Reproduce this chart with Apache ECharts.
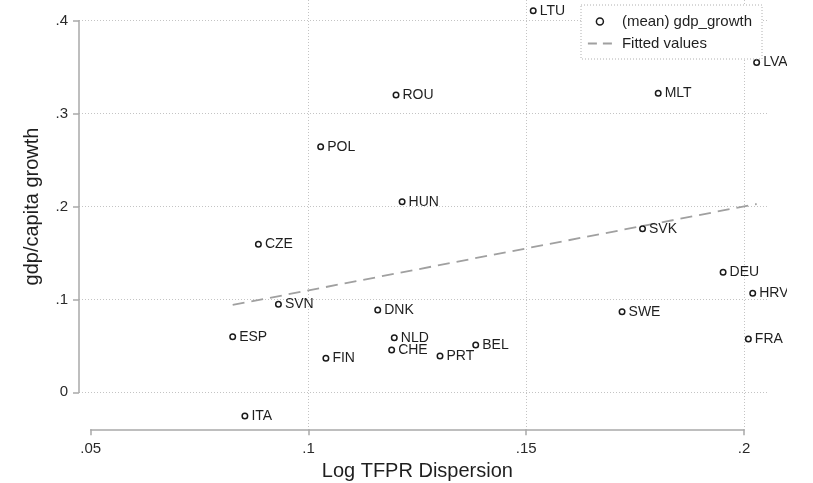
<!DOCTYPE html>
<html>
<head>
<meta charset="utf-8">
<style>
  html, body { margin: 0; padding: 0; background: #fff; }
  #chart { width: 813px; height: 483px; }
</style>
<script src="https://cdn.jsdelivr.net/npm/echarts@6/dist/echarts.min.js"></script>
</head>
<body>
<div id="chart"></div>
<script>
// Country codes and their values
const countries = ['LTU', 'LVA', 'MLT', 'ROU', 'POL', 'HUN', 'CZE', 'SVK', 'DEU', 'HRV',
                   'SWE', 'FRA', 'SVN', 'ESP', 'FIN', 'ITA', 'DNK', 'NLD', 'CHE', 'PRT', 'BEL'];
// Log TFPR dispersion (x)
const tfprDispersion = [0.1516, 0.2029, 0.1803, 0.1201, 0.1028, 0.1215, 0.0885, 0.1767, 0.1952, 0.2020,
                        0.1720, 0.2010, 0.0931, 0.0826, 0.1040, 0.0854, 0.1159, 0.1197, 0.1191, 0.1302, 0.1384];
// (mean) gdp/capita growth (y)
const gdpGrowth = [0.4106, 0.3549, 0.3218, 0.3200, 0.2644, 0.2052, 0.1593, 0.1761, 0.1292, 0.1066,
                   0.0868, 0.0574, 0.0947, 0.0599, 0.0366, -0.0255, 0.0886, 0.0588, 0.0455, 0.0391, 0.0509];
// Fitted values line end points
const fitX = [0.0826, 0.2029];
const fitY = [0.0940, 0.2027];
// Axis ticks
const xTicks = [0.05, 0.1, 0.15, 0.2];
const yTicks = [0, 0.1, 0.2, 0.3, 0.4];

const scatterName = '(mean) gdp_growth';
const fitName = 'Fitted values';
const FONT = '"Liberation Sans", Arial, Helvetica, sans-serif';

// Pixel geometry of the plot
const W = 813, H = 483;
const axisLeftPx = 79;        // y axis line
const axisBottomPx = 429.3;   // x axis line
const plotRightPx = 768;      // end of grid lines
const x0Px = 90.7, x1Px = 744;    // .05 and .2
const y0Px = 392.3, y1Px = 20.7;  // 0 and .4

const xScale = (x1Px - x0Px) / (xTicks[xTicks.length - 1] - xTicks[0]);
const yScale = (y0Px - y1Px) / (yTicks[yTicks.length - 1] - yTicks[0]);
const dataXMin = xTicks[0] - (x0Px - axisLeftPx) / xScale;
const dataXMax = xTicks[0] + (plotRightPx - x0Px) / xScale;
const dataYMin = yTicks[0] - (axisBottomPx - y0Px) / yScale;
const dataYMax = yTicks[yTicks.length - 1] + (y1Px - 0) / yScale;

const fmt = v => {
  if (Math.abs(v) < 1e-9) return '0';
  return String(+v.toFixed(2)).replace(/^0\./, '.').replace(/^-0\./, '-.');
};

const points = countries.map((c, i) => ({ name: c, value: [tfprDispersion[i], gdpGrowth[i]] }));
const fitLine = fitX.map((x, i) => [x, fitY[i]]);

const axisGray = '#a9a9a9';
const gridGray = '#c4c4c4';
const fitGray = '#a0a0a0';

const chart = echarts.init(document.getElementById('chart'), null, { renderer: 'canvas' });
chart.setOption({
  animation: false,
  backgroundColor: '#fff',
  textStyle: { fontFamily: FONT },
  grid: [
    // data area
    { left: axisLeftPx, right: W - plotRightPx, top: 0, bottom: H - axisBottomPx, outerBoundsMode: 'none' },
    // x axis frame (spans the tick range only)
    { left: x0Px, right: W - x1Px, top: 0, bottom: H - axisBottomPx, outerBoundsMode: 'none' },
    // y axis frame
    { left: axisLeftPx, right: W - plotRightPx, top: y1Px, bottom: H - y0Px, outerBoundsMode: 'none' }
  ],
  xAxis: [
    { gridIndex: 0, type: 'value', min: dataXMin, max: dataXMax, show: false },
    {
      gridIndex: 1, type: 'value', min: xTicks[0], max: xTicks[xTicks.length - 1], interval: 0.05,
      name: 'Log TFPR Dispersion', nameLocation: 'middle', nameGap: 27,
      nameTextStyle: { fontSize: 20, color: '#1f1f1f', fontFamily: FONT },
      axisLine: { show: true, onZero: false, lineStyle: { color: axisGray, width: 1.5 } },
      axisTick: { show: true, length: 6, lineStyle: { color: axisGray, width: 1.5 } },
      axisLabel: { margin: 12, fontSize: 15, color: '#2a2a2a', fontFamily: FONT, formatter: fmt },
      splitLine: { show: true, showMinLine: false, lineStyle: { color: gridGray, width: 1, type: [1, 2] } }
    },
    { gridIndex: 2, type: 'value', min: dataXMin, max: dataXMax, show: false }
  ],
  yAxis: [
    { gridIndex: 0, type: 'value', min: dataYMin, max: dataYMax, show: false },
    { gridIndex: 1, type: 'value', min: dataYMin, max: dataYMax, show: false },
    {
      gridIndex: 2, type: 'value', min: yTicks[0], max: yTicks[yTicks.length - 1], interval: 0.1,
      name: 'gdp/capita growth', nameLocation: 'middle', nameGap: 37,
      nameTextStyle: { fontSize: 20, color: '#1f1f1f', fontFamily: FONT },
      axisLine: { show: true, onZero: false, lineStyle: { color: axisGray, width: 1.5 } },
      axisTick: { show: true, length: 6, lineStyle: { color: axisGray, width: 1.5 } },
      axisLabel: { margin: 11, fontSize: 15, color: '#2a2a2a', fontFamily: FONT, formatter: fmt },
      splitLine: { show: true, lineStyle: { color: gridGray, width: 1, type: [1, 2] } }
    }
  ],
  legend: {
    orient: 'vertical',
    left: 587, top: 13.5,
    padding: 0,
    itemGap: 6,
    itemWidth: 24, itemHeight: 7,
    textStyle: { fontSize: 15, color: '#1f1f1f', fontFamily: FONT, lineHeight: 16, padding: [0, 0, 0, 5] },
    lineStyle: { type: [9, 6], color: fitGray, width: 1.8 },
    data: [
      { name: scatterName, icon: 'circle',
        itemStyle: { color: '#fff', borderColor: '#1a1a1a', borderWidth: 1.5 } },
      { name: fitName, itemStyle: { color: 'rgba(0,0,0,0)', borderWidth: 0 } }
    ],
    z: 5
  },
  graphic: [
    // legend frame
    { type: 'rect', z: 3, shape: { x: 581, y: 5, width: 181, height: 54 },
      style: { fill: '#fff', stroke: '#b0b0b0', lineWidth: 1, lineDash: [1, 2] } },
    // image edge clipping on the right
    { type: 'rect', z: 100, shape: { x: 787, y: 0, width: W - 787, height: H },
      style: { fill: '#fff' } }
  ],
  series: [
    {
      name: scatterName, type: 'scatter', xAxisIndex: 0, yAxisIndex: 0,
      data: points,
      symbol: 'circle', symbolSize: 5.5,
      itemStyle: { color: '#fff', borderColor: '#1a1a1a', borderWidth: 1.5, opacity: 1 },
      label: {
        show: true, position: 'right', distance: 3,
        formatter: p => p.name,
        fontSize: 14, color: '#1f1f1f', fontFamily: FONT
      },
      emphasis: { disabled: true },
      z: 2
    },
    {
      name: fitName, type: 'line', xAxisIndex: 0, yAxisIndex: 0,
      data: fitLine,
      symbol: 'none',
      itemStyle: { color: fitGray },
      lineStyle: { color: fitGray, width: 1.8, type: [12, 7] },
      emphasis: { disabled: true },
      z: 1
    }
  ]
});
</script>
</body>
</html>
